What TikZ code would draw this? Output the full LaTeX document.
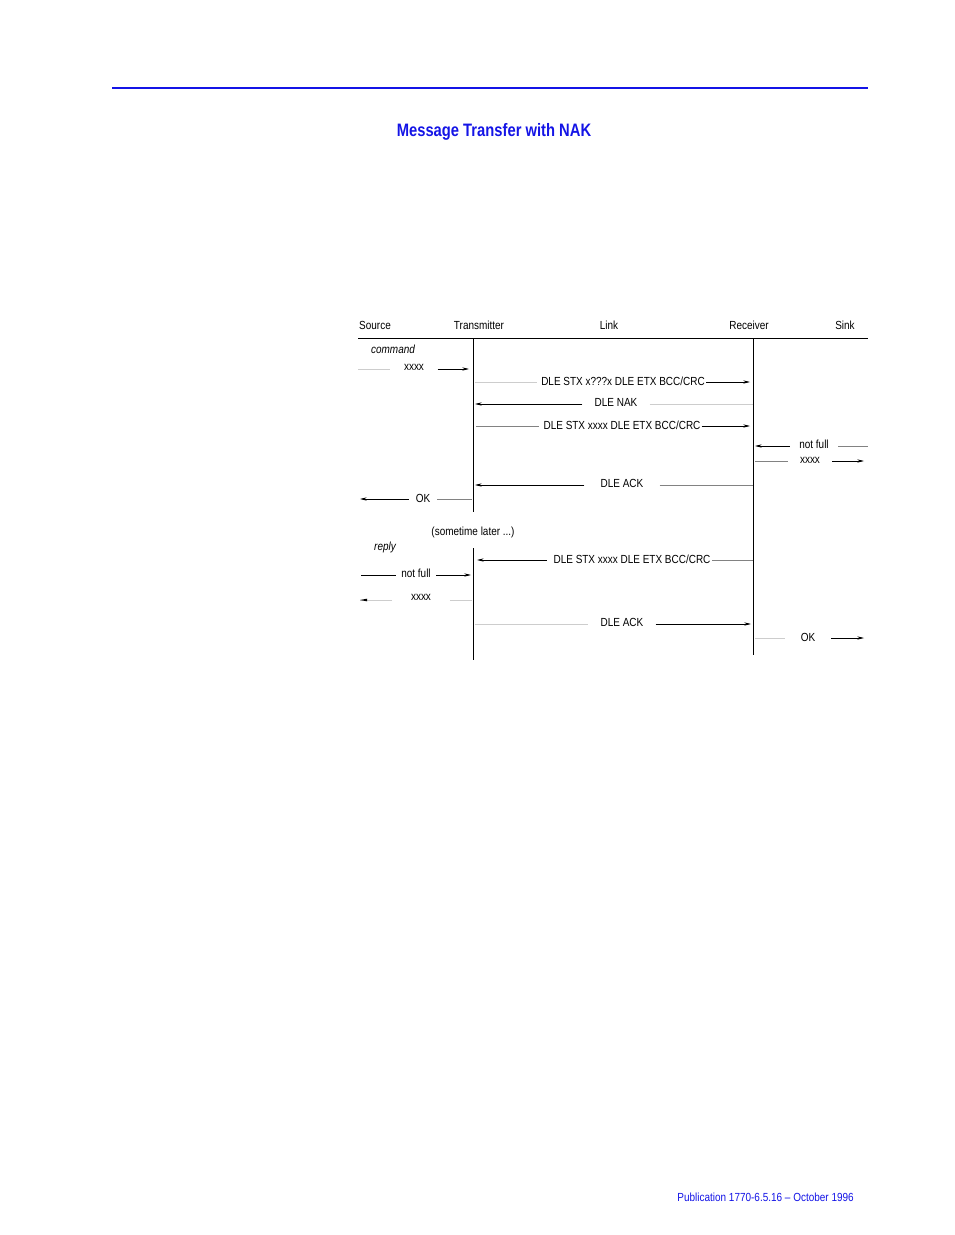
\documentclass[tikz,border=0pt]{standalone}
\usepackage{fontspec}
\setmainfont{Liberation Sans}
\usetikzlibrary{arrows.meta}
\definecolor{pubblue}{RGB}{20,20,230}
\definecolor{faint}{RGB}{205,205,205}
\definecolor{mid}{RGB}{130,130,130}
\newcommand{\lblfont}{\fontsize{8.8}{10}\selectfont\addfontfeatures{FakeStretch=0.85}}
\tikzset{
  lbl/.style={inner ysep=1pt, inner xsep=4pt, font=\lblfont},
  msg/.style={-{Stealth[length=5pt,width=2.4pt]}, black, thin},
  tail/.style={thin, faint},
  tailmid/.style={thin, mid},
  life/.style={black, thin}
}
\begin{document}
\begin{tikzpicture}[x=0.75pt,y=-0.75pt]
  \useasboundingbox (0,0) rectangle (954,1235);

  % page rule, title, footer
  \coordinate (ruleL) at (112,88);
  \coordinate (ruleR) at (868,88);
  \draw[pubblue, line width=1.1pt] (ruleL) -- (ruleR);
  \node[pubblue, font=\bfseries\fontsize{13.5}{16}\selectfont\addfontfeatures{FakeStretch=0.82}] (title) at (494,132) {Message Transfer with NAK};
  \node[pubblue, lbl, inner xsep=0pt, anchor=east] (footer) at (854,1197) {Publication 1770-6.5.16 -- October 1996};

  % column headings
  \foreach \name/\x/\txt in {src/375/Source, tx/479/Transmitter, link/609/Link, rx/749/Receiver, sink/845/Sink} {
    \node[lbl] (\name) at (\x,325) {\txt};
  }
  \coordinate (headL) at (358,338);
  \coordinate (headR) at (868,338);
  \draw[life] (headL) -- (headR);

  % life lines
  \coordinate (txA) at (473,338);
  \coordinate (txB) at (473,512);
  \coordinate (txC) at (473,548);
  \coordinate (txD) at (473,660);
  \coordinate (rxA) at (753,338);
  \coordinate (rxB) at (753,655);
  \draw[life] (txA) -- (txB);
  \draw[life] (txC) -- (txD);
  \draw[life] (rxA) -- (rxB);

  % first transfer
  \node[lbl, font=\itshape\lblfont] (cmd) at (393,349) {command};
  \node[lbl, inner xsep=10pt] (m1) at (414,367) {xxxx};
  \coordinate (m1a) at (358,369); \coordinate (m1b) at (469,369);
  \draw[tail] (m1a) -- (m1.west |- m1a);
  \draw[msg] (m1.east |- m1b) -- (m1b);

  \node[lbl, inner xsep=3pt] (m2) at (623,381) {DLE STX x???x DLE ETX BCC/CRC};
  \coordinate (m2a) at (475,382); \coordinate (m2b) at (750,382);
  \draw[tail] (m2a) -- (m2.west |- m2a);
  \draw[msg] (m2.east |- m2b) ++(-3,0) -- (m2b);

  \node[lbl, inner xsep=9pt] (m3) at (616,402) {DLE NAK};
  \coordinate (m3a) at (475,404); \coordinate (m3b) at (753,404);
  \draw[msg] (m3.west |- m3a) -- (m3a);
  \draw[tail] (m3.east |- m3b) -- (m3b);

  \node[lbl, inner xsep=3pt] (m4) at (622,425) {DLE STX xxxx DLE ETX BCC/CRC};
  \coordinate (m4a) at (476,426); \coordinate (m4b) at (750,426);
  \draw[tailmid] (m4a) -- (m4.west |- m4a);
  \draw[msg] (m4.east |- m4b) ++(-3,0) -- (m4b);

  \node[lbl, inner xsep=7pt] (m5) at (814,444) {not full};
  \coordinate (m5a) at (755,446); \coordinate (m5b) at (868,446);
  \draw[msg] (m5.west |- m5a) -- (m5a);
  \draw[tailmid] (m5.east |- m5b) -- (m5b);

  \node[lbl, inner xsep=9pt] (m6) at (810,460) {xxxx};
  \coordinate (m6a) at (755,461); \coordinate (m6b) at (864,461);
  \draw[tailmid] (m6a) -- (m6.west |- m6a);
  \draw[msg] (m6.east |- m6b) -- (m6b);

  \node[lbl, inner xsep=12pt] (m7) at (622,483) {DLE ACK};
  \coordinate (m7a) at (475,485); \coordinate (m7b) at (753,485);
  \draw[msg] (m7.west |- m7a) -- (m7a);
  \draw[tailmid] (m7.east |- m7b) -- (m7b);

  \node[lbl, inner xsep=5pt] (m8) at (423,498) {OK};
  \coordinate (m8a) at (360,499); \coordinate (m8b) at (472,499);
  \draw[msg] (m8.west |- m8a) -- (m8a);
  \draw[tailmid] (m8.east |- m8b) -- (m8b);

  % reply
  \node[lbl] (later) at (473,532) {(sometime later ...)};
  \node[lbl, font=\itshape\lblfont] (reply) at (385,547) {reply};

  \node[lbl, inner xsep=5pt] (m9) at (632,559) {DLE STX xxxx DLE ETX BCC/CRC};
  \coordinate (m9a) at (477,560); \coordinate (m9b) at (753,560);
  \draw[msg] (m9.west |- m9a) -- (m9a);
  \draw[tailmid] (m9.east |- m9b) ++(-5,0) -- (m9b);

  \node[lbl, inner xsep=4pt] (m10) at (416,573) {not full};
  \coordinate (m10a) at (361,575); \coordinate (m10b) at (471,575);
  \draw[life] (m10a) -- (m10.west |- m10a);
  \draw[msg] (m10.east |- m10b) -- (m10b);

  \node[lbl, inner xsep=14pt] (m11) at (421,597) {xxxx};
  \coordinate (m11a) at (360,600); \coordinate (m11b) at (472,600);
  \draw[tail] (m11.west |- m11a) -- (m11a);
  \fill (m11a) -- ++(7,-1.3) -- ++(0,2.6) -- cycle;
  \draw[tail] (m11.east |- m11b) -- (m11b);

  \node[lbl, inner xsep=9pt] (m12) at (622,622) {DLE ACK};
  \coordinate (m12a) at (475,624); \coordinate (m12b) at (751,624);
  \draw[tail] (m12a) -- (m12.west |- m12a);
  \draw[msg] (m12.east |- m12b) -- (m12b);

  \node[lbl, inner xsep=12pt] (m13) at (808,637) {OK};
  \coordinate (m13a) at (755,638); \coordinate (m13b) at (864,638);
  \draw[tail] (m13a) -- (m13.west |- m13a);
  \draw[msg] (m13.east |- m13b) -- (m13b);
\end{tikzpicture}
\end{document}
